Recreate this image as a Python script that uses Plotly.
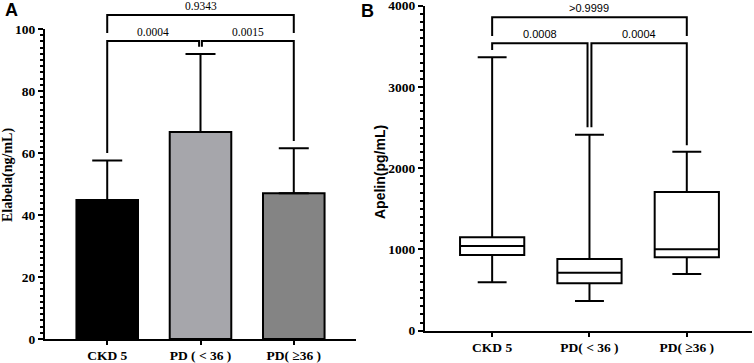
import plotly.graph_objects as go

# ---------------- data ----------------
categories_A = ["CKD 5", "PD ( < 36 )", "PD( ≥36 )"]
elabela_mean = [44.8, 66.8, 47.0]
elabela_sd = [12.8, 25.1, 14.5]
bar_colors = ["#000000", "#a6a6ab", "#848484"]

categories_B = ["CKD 5", "PD( < 36 )", "PD( ≥36 )"]
apelin_min = [595, 366, 698]
apelin_q1 = [932, 583, 903]
apelin_median = [1042, 714, 1002]
apelin_q3 = [1149, 882, 1707]
apelin_max = [3365, 2412, 2203]

# brackets: (x_start, x_end, level, left_leg_bottom, right_leg_bottom, label)
brackets_A = [
    (0, 0.985, 96.1, 60.0, 94.3, "0.0004"),
    (1.015, 2, 96.1, 94.3, 63.9, "0.0015"),
    (0, 2, 104.5, 98.7, 98.7, "0.9343"),
]
brackets_B = [
    (0, 0.98, 3537, 3455, 2503, "0.0008"),
    (1.02, 2, 3537, 2503, 2283, "0.0004"),
    (0, 2, 3857, 3627, 3627, ">0.9999"),
]

# ---------------- layout geometry ----------------
W, H = 754, 363
xdomA = [45 / W, 356 / W]
ydomA = [(H - 339) / H, (H - 29) / H]
xdomB = [425 / W, 752 / W]
ydomB = [(H - 330.7) / H, (H - 5.7) / H]
xrngA = [-0.667, 2.667]
yrngA = [0, 100]
xrngB = [-0.69, 2.67]
yrngB = [0, 4000]


def to_paper(v, dom, rng):
    return dom[0] + (v - rng[0]) / (rng[1] - rng[0]) * (dom[1] - dom[0])


fig = go.Figure()

fig.add_trace(go.Bar(
    x=categories_A, y=elabela_mean,
    marker=dict(color=bar_colors, line=dict(color="black", width=2)),
    width=0.66,
    error_y=dict(type="data", symmetric=False, array=elabela_sd,
                 arrayminus=[0] * len(elabela_sd), color="black",
                 thickness=2, width=15),
    xaxis="x", yaxis="y", showlegend=False,
))

fig.add_trace(go.Box(
    x=categories_B, q1=apelin_q1, median=apelin_median, q3=apelin_q3,
    lowerfence=apelin_min, upperfence=apelin_max,
    fillcolor="white", line=dict(color="black", width=2),
    width=0.66, whiskerwidth=0.45, boxpoints=False,
    xaxis="x2", yaxis="y2", showlegend=False,
))

shapes = []
annotations = []
line_style = dict(color="black", width=2)


def add_brackets(brs, xdom, xrng, ydom, yrng, font):
    for x0, x1, lvl, lb, rb, lab in brs:
        px0 = to_paper(x0, xdom, xrng)
        px1 = to_paper(x1, xdom, xrng)
        py = to_paper(lvl, ydom, yrng)
        pl = to_paper(lb, ydom, yrng)
        pr = to_paper(rb, ydom, yrng)
        path = f"M {px0},{pl} L {px0},{py} L {px1},{py} L {px1},{pr}"
        shapes.append(dict(type="path", path=path, xref="paper", yref="paper",
                           line=line_style))
        annotations.append(dict(x=(px0 + px1) / 2, y=py, xref="paper", yref="paper",
                                text=lab, showarrow=False, xanchor="center",
                                yanchor="bottom", yshift=1, font=font))


add_brackets(brackets_A, xdomA, xrngA, ydomA, yrngA,
             dict(family="Liberation Serif", size=11.5, color="black"))
add_brackets(brackets_B, xdomB, xrngB, ydomB, yrngB,
             dict(family="Liberation Sans", size=11, color="black"))

# axis titles and panel letters
annotations.append(dict(x=8 / W, y=(H - 175) / H, xref="paper", yref="paper",
                        text="Elabela(ng/mL)", textangle=-90, showarrow=False,
                        xanchor="center", yanchor="middle",
                        font=dict(family="Liberation Serif", size=14, color="black", weight="bold")))
annotations.append(dict(x=380 / W, y=(H - 172) / H, xref="paper", yref="paper",
                        text="Apelin(pg/mL)", textangle=-90, showarrow=False,
                        xanchor="center", yanchor="middle",
                        font=dict(family="Liberation Sans", size=14, color="black", weight="bold")))
annotations.append(dict(x=11 / W, y=(H - 10) / H, xref="paper", yref="paper",
                        text="A", showarrow=False, xanchor="center", yanchor="middle",
                        font=dict(family="Liberation Sans", size=18, color="black", weight="bold")))
annotations.append(dict(x=367 / W, y=(H - 11) / H, xref="paper", yref="paper",
                        text="B", showarrow=False, xanchor="center", yanchor="middle",
                        font=dict(family="Liberation Sans", size=18, color="black", weight="bold")))

tickfont = dict(family="Liberation Serif", size=13.5, color="black", weight="bold")
xtickfont = dict(family="Liberation Serif", size=13.5, color="black", weight="bold")

common_x = dict(showline=True, linewidth=2, linecolor="black", ticks="outside",
                ticklen=4, tickwidth=2, tickcolor="black", showgrid=False,
                zeroline=False, tickfont=xtickfont, fixedrange=True, automargin=False,
                ticklabelstandoff=-1, ticklabeloverflow="allow")
common_y = dict(showline=True, linewidth=2, linecolor="black", ticks="outside",
                ticklen=5, tickwidth=2, tickcolor="black", showgrid=False,
                zeroline=False, tickfont=tickfont, fixedrange=True, automargin=False,
                ticklabeloverflow="allow")

fig.update_layout(
    width=W, height=H,
    margin=dict(l=0, r=0, t=0, b=0, autoexpand=False),
    paper_bgcolor="white", plot_bgcolor="white",
    xaxis=dict(domain=xdomA, range=xrngA, anchor="y", **common_x),
    yaxis=dict(domain=ydomA, range=yrngA, anchor="x", tickvals=[0, 20, 40, 60, 80, 100],
               minor=dict(dtick=2, ticks="outside", ticklen=3, tickwidth=1.5,
                          tickcolor="black", showgrid=False),
               **common_y),
    xaxis2=dict(domain=xdomB, range=xrngB, anchor="y2", **common_x),
    yaxis2=dict(domain=ydomB, range=yrngB, anchor="x2", tickvals=[0, 1000, 2000, 3000, 4000],
                minor=dict(dtick=100, ticks="outside", ticklen=3, tickwidth=1.5,
                           tickcolor="black", showgrid=False),
                **common_y),
    shapes=shapes,
    annotations=annotations,
    showlegend=False,
)

fig.write_html(
    "out.html",
    config={"displayModeBar": False},
    post_script="document.body.style.margin='0';document.body.style.overflow='hidden';",
)
